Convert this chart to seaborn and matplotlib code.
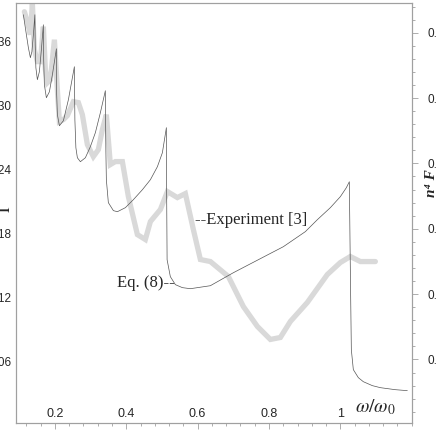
import numpy as np
import pandas as pd
import seaborn as sns
import matplotlib.pyplot as plt
from matplotlib.ticker import FixedLocator, MultipleLocator, FormatStrFormatter

# theory curve, Eq. (8), left axis (Gamma)
omega_eq = [0.1118, 0.1202, 0.1258, 0.1314, 0.1356, 0.1398, 0.1440, 0.1449, 0.1468, 0.1510,
            0.1566, 0.1622, 0.1678, 0.1687, 0.1706, 0.1762, 0.1847, 0.1931, 0.2043, 0.2051,
            0.2071, 0.2127, 0.2239, 0.2379, 0.2547, 0.2561, 0.2589, 0.2631, 0.2715, 0.2855,
            0.2995, 0.3135, 0.3275, 0.3415, 0.3429, 0.3443, 0.3499, 0.3640, 0.3752, 0.3976,
            0.4200, 0.4452, 0.4677, 0.4873, 0.5013, 0.5125, 0.5134, 0.5145, 0.5236, 0.5377,
            0.5573, 0.5797, 0.6357, 0.7002, 0.7702, 0.8403, 0.9019, 0.9355, 0.9720, 1.0000,
            1.0168, 1.0252, 1.0280, 1.0308, 1.0364, 1.0504, 1.0644, 1.0896, 1.1120, 1.1541,
            1.1877]
gamma_eq = [0.3853, 0.3666, 0.3544, 0.3450, 0.3506, 0.3666, 0.3853, 0.3572, 0.3356, 0.3244,
            0.3319, 0.3525, 0.3759, 0.3431, 0.3197, 0.3075, 0.3131, 0.3291, 0.3534, 0.3103,
            0.2916, 0.2812, 0.2859, 0.3056, 0.3366, 0.2869, 0.2606, 0.2512, 0.2475, 0.2512,
            0.2616, 0.2747, 0.2934, 0.3141, 0.2587, 0.2306, 0.2091, 0.2016, 0.2006, 0.2044,
            0.2119, 0.2212, 0.2306, 0.2428, 0.2559, 0.2794, 0.2119, 0.1556, 0.1397, 0.1322,
            0.1294, 0.1284, 0.1312, 0.1434, 0.1556, 0.1678, 0.1819, 0.1931, 0.2044, 0.2147,
            0.2231, 0.2287, 0.1462, 0.0712, 0.0525, 0.0450, 0.0412, 0.0375, 0.0356, 0.0337,
            0.0328]

# experiment [3], right axis (n^4 F)
omega_exp = [0.1146, 0.1230, 0.1314, 0.1370, 0.1426, 0.1510, 0.1594, 0.1678, 0.1734, 0.1790,
             0.1874, 0.1987, 0.2070, 0.2127, 0.2239, 0.2351, 0.2519, 0.2659, 0.2771, 0.2911,
             0.3079, 0.3219, 0.3331, 0.3443, 0.3555, 0.3696, 0.3892, 0.4060, 0.4312, 0.4536,
             0.4677, 0.4957, 0.5153, 0.5433, 0.5657, 0.5881, 0.6078, 0.6358, 0.6862, 0.7282,
             0.7675, 0.8039, 0.8319, 0.8599, 0.9075, 0.9636, 1.0000, 1.0280, 1.0561, 1.0981]
nf_exp = [0.6321, 0.6168, 0.5969, 0.6450, 0.5740, 0.5557, 0.5557, 0.6092, 0.5434, 0.5235,
          0.5281, 0.5893, 0.5128, 0.4639, 0.4670, 0.4731, 0.4945, 0.4930, 0.4746, 0.4287,
          0.4104, 0.4211, 0.4517, 0.4746, 0.3982, 0.4028, 0.4028, 0.3492, 0.2911, 0.2835,
          0.3110, 0.3294, 0.3569, 0.3477, 0.3538, 0.2988, 0.2529, 0.2498, 0.2269, 0.1810,
          0.1505, 0.1306, 0.1336, 0.1581, 0.1872, 0.2300, 0.2483, 0.2575, 0.2498, 0.2498]

x_ticks = [0.2, 0.4, 0.6, 0.8, 1.0]
x_labels = ["0.2", "0.4", "0.6", "0.8", "1"]
left_ticks = [0.06, 0.12, 0.18, 0.24, 0.30, 0.36]
right_ticks = [0.1, 0.2, 0.3, 0.4, 0.5, 0.6]

sns.set_style("white")
plt.rcParams["font.family"] = ["Liberation Sans", "DejaVu Sans"]
plt.rcParams["mathtext.fontset"] = "stix"

df_eq = pd.DataFrame({"omega": omega_eq, "gamma": gamma_eq})
df_exp = pd.DataFrame({"omega": omega_exp, "nf": nf_exp})

fig = plt.figure(figsize=(4.36, 4.36), dpi=100)
ax = fig.add_axes([0.0358, 0.0287, 0.9085, 0.9651])
ax2 = ax.twinx()

sns.lineplot(data=df_exp, x="omega", y="nf", ax=ax2, sort=False, estimator=None,
             color="#d9d9d9", linewidth=3.8, solid_joinstyle="miter")
sns.lineplot(data=df_eq, x="omega", y="gamma", ax=ax, sort=False, estimator=None,
             color="#555555", linewidth=0.5)

ax.set_zorder(ax2.get_zorder() + 1)
ax.patch.set_visible(False)

ax.set_xlim(0.09, 1.2)
ax.set_ylim(0.002, 0.3966)
ax2.set_ylim(0.002, 0.6459)

for a in (ax, ax2):
    a.set_xlabel("")
    a.set_ylabel("")
    for s in a.spines.values():
        s.set_color("#a0a0a0")
        s.set_linewidth(0.8)

ax.xaxis.set_major_locator(FixedLocator(x_ticks))
ax.set_xticklabels(x_labels)
ax.xaxis.set_minor_locator(MultipleLocator(0.04))
ax.tick_params(axis="x", which="major", direction="out", length=4, width=0.6,
               color="#a0a0a0", labelsize=9, pad=-15, bottom=True)
ax.tick_params(axis="x", which="minor", direction="out", length=2, width=0.6,
               color="#a0a0a0", bottom=True)

ax.yaxis.set_major_locator(FixedLocator(left_ticks))
ax.yaxis.set_major_formatter(FormatStrFormatter("%.2f"))
ax.tick_params(axis="y", which="both", length=0, labelsize=8.5, pad=3)

ax2.yaxis.set_major_locator(FixedLocator(right_ticks))
ax2.yaxis.set_major_formatter(FormatStrFormatter("%.1f"))
ax2.yaxis.set_minor_locator(MultipleLocator(0.02))
ax2.tick_params(axis="y", which="major", direction="out", length=4, width=0.6,
                color="#a0a0a0", labelsize=8.5, pad=7.5, right=True)
ax2.tick_params(axis="y", which="minor", direction="out", length=2, width=0.6,
                color="#a0a0a0", right=True)

ax.text(0.5937, 0.1931, "--Experiment [3]", family="Liberation Serif", fontsize=12,
        ha="left", va="center")
ax.text(0.5349, 0.1341, "Eq. (8)--", family="Liberation Serif", fontsize=12,
        ha="right", va="center")
ax.text(1.040, 0.017, r"$\omega/\omega_0$", fontsize=14, ha="left", va="center")

fig.text(0.012, 0.525, r"$\Gamma$", rotation=90, fontsize=13, ha="center", va="center")
fig.text(0.99, 0.58, "n⁴ F", rotation=90, family="Liberation Serif", style="italic",
         weight="bold", fontsize=11, ha="center", va="center")

fig.savefig("out.png", dpi=100)
